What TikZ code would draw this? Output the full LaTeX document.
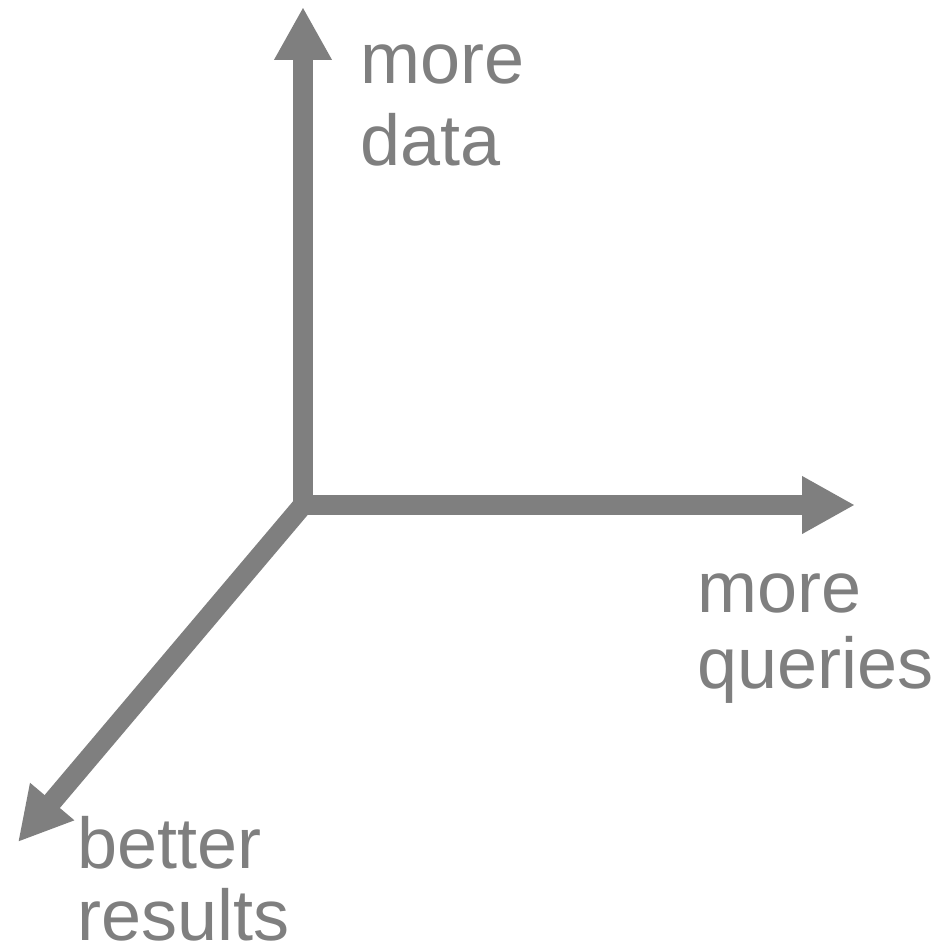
\documentclass[tikz,border=0pt]{standalone}
\usepackage{fontspec}
\setmainfont{Liberation Sans}
\usetikzlibrary{arrows.meta}
\definecolor{axisgray}{HTML}{7F7F7F}
\tikzset{
  axis/.style={draw=axisgray, line width=20pt,
    -{Triangle[width=54pt,length=53pt]}},
  label/.style={text=axisgray, inner sep=0pt, anchor=base west, align=left,
    font=\fontsize{72pt}{#1}\selectfont},
}
\begin{document}
\begin{tikzpicture}[x=1pt,y=-1pt]
  \useasboundingbox (0,0) rectangle (952,950);
  % axis origin and the three tips
  \coordinate (o) at (303,505);
  \coordinate (ob) at (303,514);
  \coordinate (oh) at (295,505);
  \coordinate (up) at (303,7);
  \coordinate (rt) at (855,505);
  \coordinate (dl) at (18,842);
  % axes
  \draw[axis] (ob) -- (up);
  \draw[axis] (oh) -- (rt);
  \draw[axis] (o) -- (dl);
  % axis labels (anchored at the baseline of their last line)
  \node[label=82pt] (data) at (360,165) {more\\data};
  \node[label=76pt] (queries) at (697,688) {more\\queries};
  \node[label=72pt] (results) at (77,940) {better\\results};
\end{tikzpicture}
\end{document}
